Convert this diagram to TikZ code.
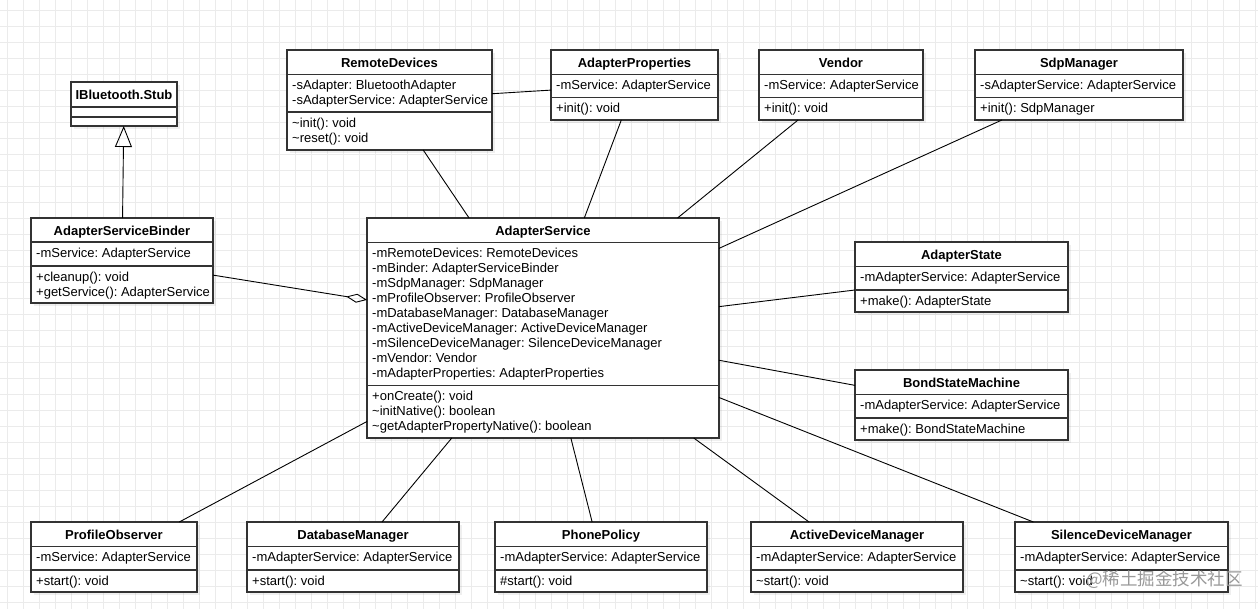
\documentclass[tikz,border=0pt]{standalone}
\usepackage{fontspec}
\setmainfont{Liberation Sans}
\newfontfamily\cjkfont{Noto Sans CJK SC}
\usepackage{tikz}
\usetikzlibrary{arrows.meta, shadows}
\frenchspacing

\tikzset{
  classbox/.style={draw=black!80, line width=1.2pt, fill=white, inner sep=0pt, outer sep=0pt,
    drop shadow={shadow xshift=3pt, shadow yshift=-3pt, opacity=0.12}},
  divider/.style={draw=black!80, line width=1.2pt},
  title/.style={font=\bfseries\fontsize{13}{15}\selectfont, inner sep=0pt, anchor=base},
  member/.style={font=\fontsize{13}{15}\selectfont, inner sep=0pt, anchor=base west},
  assoc/.style={draw=black, line width=0.9pt},
  gridline/.style={draw=black!8, line width=0.8pt}
}

% name, centre, width, height, first divider, second divider, title, attributes, operations
\newcommand{\umlclass}[9]{
  \node (#1) [classbox, minimum width=#3pt, minimum height=#4pt] at (#2) {};
  \draw[divider] ([yshift=-#5pt]#1.north west) -- ([yshift=-#5pt]#1.north east);
  \draw[divider] ([yshift=-#6pt]#1.north west) -- ([yshift=-#6pt]#1.north east);
  \node (#1-title) [title] at ([yshift=-17.5pt]#1.north) {#7};
  \foreach \txt [count=\k] in {#8}
    \node (#1-attr\k) [member] at ([xshift=5pt, yshift={-(#5+15.3+15*(\k-1))*1pt}]#1.north west) {\txt};
  \foreach \txt [count=\k] in {#9}
    \node (#1-op\k) [member] at ([xshift=5pt, yshift={-(#6+15.3+15*(\k-1))*1pt}]#1.north west) {\txt};
}

\begin{document}
\begin{tikzpicture}[x=1pt, y=-1pt]

  \useasboundingbox (0,0) rectangle (1258,609);
  \fill[white] (0,0) rectangle (1258,609);

  % Grid
  \foreach \gx in {7.7,23.7,...,1258}
    \draw[gridline] (\gx,0) -- (\gx,609);
  \foreach \gy in {10,26,...,609}
    \draw[gridline] (0,\gy) -- (1258,\gy);

  % Interface
  \node (stub) [classbox, minimum width=106pt, minimum height=44pt] at (124,104) {};
  \draw[divider] ([yshift=-25pt]stub.north west) -- ([yshift=-25pt]stub.north east);
  \draw[divider] ([yshift=-35pt]stub.north west) -- ([yshift=-35pt]stub.north east);
  \node (stub-title) [title] at ([yshift=-17.5pt]stub.north) {IBluetooth.Stub};

  % Top row
  \umlclass{binder}{122,260.5}{182}{85}{24}{48}{AdapterServiceBinder}
    {-mService: AdapterService}
    {+cleanup(): void, +getService(): AdapterService}
  \umlclass{remote}{389.5,100}{205}{100}{24.5}{62}{RemoteDevices}
    {-sAdapter: BluetoothAdapter, -sAdapterService: AdapterService}
    {\textasciitilde init(): void, \textasciitilde reset(): void}
  \umlclass{props}{634.5,85}{167}{70}{24.5}{47.5}{AdapterProperties}
    {-mService: AdapterService}
    {+init(): void}
  \umlclass{vendor}{841,85}{164}{70}{24.5}{47.5}{Vendor}
    {-mService: AdapterService}
    {+init(): void}
  \umlclass{sdp}{1079,85}{208}{70}{24.5}{47.5}{SdpManager}
    {-sAdapterService: AdapterService}
    {+init(): SdpManager}

  % Centre
  \umlclass{service}{543,328}{352}{220}{24.5}{167.5}{AdapterService}
    {-mRemoteDevices: RemoteDevices, -mBinder: AdapterServiceBinder, -mSdpManager: SdpManager,
     -mProfileObserver: ProfileObserver, -mDatabaseManager: DatabaseManager,
     -mActiveDeviceManager: ActiveDeviceManager, -mSilenceDeviceManager: SilenceDeviceManager,
     -mVendor: Vendor, -mAdapterProperties: AdapterProperties}
    {+onCreate(): void, \textasciitilde initNative(): boolean, \textasciitilde getAdapterPropertyNative(): boolean}
  \umlclass{state}{961.5,277}{213}{70}{24.5}{48}{AdapterState}
    {-mAdapterService: AdapterService}
    {+make(): AdapterState}
  \umlclass{bond}{961.5,405}{213}{70}{24.5}{48}{BondStateMachine}
    {-mAdapterService: AdapterService}
    {+make(): BondStateMachine}

  % Bottom row
  \umlclass{profile}{114,557}{166}{70}{24.5}{48}{ProfileObserver}
    {-mService: AdapterService}
    {+start(): void}
  \umlclass{database}{353,557}{212}{70}{24.5}{48}{DatabaseManager}
    {-mAdapterService: AdapterService}
    {+start(): void}
  \umlclass{phone}{601,557}{212}{70}{24.5}{48}{PhonePolicy}
    {-mAdapterService: AdapterService}
    {\#start(): void}
  \umlclass{active}{857,557}{212}{70}{24.5}{48}{ActiveDeviceManager}
    {-mAdapterService: AdapterService}
    {\textasciitilde start(): void}
  \umlclass{silence}{1121.5,557}{213}{70}{24.5}{48}{SilenceDeviceManager}
    {-mAdapterService: AdapterService}
    {\textasciitilde start(): void}

  % Arrows
  \draw[assoc, -{Triangle[open, length=21pt, width=17pt]}] (binder) -- (stub);
  \draw[assoc, -{Diamond[open, length=21pt, width=9pt]}] (binder) -- (service);
  \draw[assoc] (remote) -- (props);
  \draw[assoc] (remote) -- (service);
  \draw[assoc] (props) -- (service);
  \draw[assoc] (vendor) -- (service);
  \draw[assoc] (sdp) -- (service);
  \draw[assoc] (state) -- (service);
  \draw[assoc] (bond) -- (service);
  \draw[assoc] (profile) -- (service);
  \draw[assoc] (database) -- (service);
  \draw[assoc] (phone) -- (service);
  \draw[assoc] (active) -- (service);
  \draw[assoc] (silence) -- (service);

  % Watermark
  \node (watermark) [font=\cjkfont\fontsize{17.5}{20}\selectfont, text=black!40, anchor=west, inner sep=0pt]
    at (1086,580) {@稀土掘金技术社区};

\end{tikzpicture}
\end{document}
